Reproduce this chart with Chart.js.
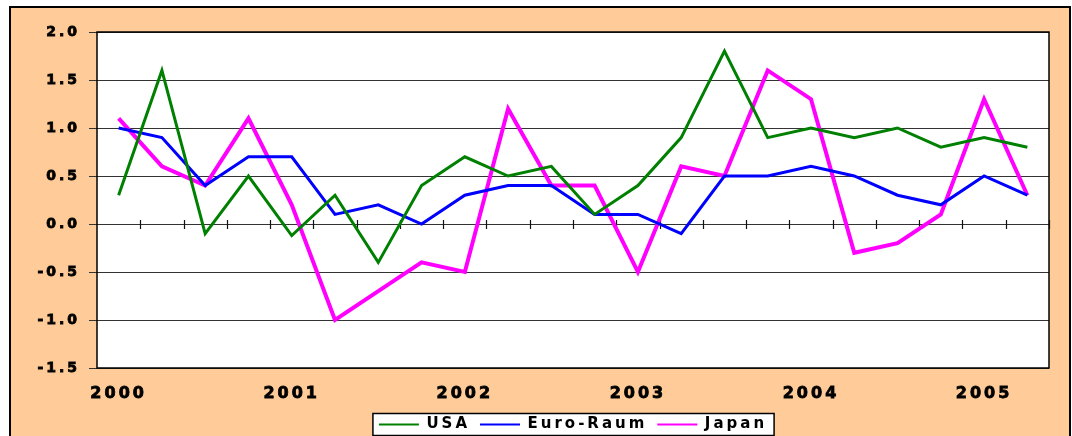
<!DOCTYPE html>
<html>
<head>
<meta charset="utf-8">
<script src="https://cdn.jsdelivr.net/npm/chart.js@4/dist/chart.umd.min.js"></script>
<style>
  html, body { margin: 0; padding: 0; background: #fff; }
  body { width: 1072px; height: 436px; position: relative; overflow: hidden; }
  .frame {
    position: absolute; left: 9px; top: 6px; width: 1058px; height: 440px;
    background: #ffcc99; border: 2px solid #000;
  }
  #chart { position: absolute; left: 0; top: 0; }
</style>
</head>
<body>
<div class="frame"></div>
<canvas id="chart" width="1072" height="436"></canvas>
<script>
// Quarterly growth, 2000 Q1 - 2005 Q2
const categories = [
  '2000 Q1', '2000 Q2', '2000 Q3', '2000 Q4',
  '2001 Q1', '2001 Q2', '2001 Q3', '2001 Q4',
  '2002 Q1', '2002 Q2', '2002 Q3', '2002 Q4',
  '2003 Q1', '2003 Q2', '2003 Q3', '2003 Q4',
  '2004 Q1', '2004 Q2', '2004 Q3', '2004 Q4',
  '2005 Q1', '2005 Q2'
];
const usa   = [0.3, 1.6, -0.1, 0.5, -0.12, 0.3, -0.4, 0.4, 0.7, 0.5, 0.6, 0.1, 0.4, 0.9, 1.8, 0.9, 1.0, 0.9, 1.0, 0.8, 0.9, 0.8];
const euro  = [1.0, 0.9, 0.4, 0.7, 0.7, 0.1, 0.2, 0.0, 0.3, 0.4, 0.4, 0.1, 0.1, -0.1, 0.5, 0.5, 0.6, 0.5, 0.3, 0.2, 0.5, 0.3];
const japan = [1.1, 0.6, 0.4, 1.1, 0.2, -1.0, -0.7, -0.4, -0.5, 1.2, 0.4, 0.4, -0.5, 0.6, 0.5, 1.6, 1.3, -0.3, -0.2, 0.1, 1.3, 0.3];
const seriesNames = ['USA', 'Euro-Raum', 'Japan'];
const yMin = -1.5, yMax = 2.0, yStep = 0.5;

const fontFamily = '"DejaVu Sans", Verdana, sans-serif';
const legendShift = 6;

// wide lettering like the original picture
const textPlugin = {
  id: 'wideText',
  beforeUpdate(chart) { chart.ctx.letterSpacing = '3px'; },
  beforeDraw(chart) { chart.ctx.letterSpacing = '3px'; }
};

// white plot area, frame, legend box and the small ticks on the zero line
const framePlugin = {
  id: 'frame',
  afterLayout(chart) {
    chart.legend.top += legendShift;
    chart.legend.bottom += legendShift;
  },
  beforeDraw(chart) {
    const {ctx, chartArea: a} = chart;
    ctx.save();
    ctx.fillStyle = '#fff';
    ctx.fillRect(a.left, a.top, a.right - a.left, a.bottom - a.top);

    const boxes = chart.legend.legendHitBoxes;
    if (boxes && boxes.length) {
      const left = Math.min(...boxes.map(b => b.left)) - 6;
      const right = Math.max(...boxes.map(b => b.left + b.width)) + 7;
      const top = boxes[0].top - 3.5;
      const bottom = boxes[0].top + boxes[0].height + 3.5;
      ctx.fillStyle = '#fff';
      ctx.fillRect(left, top, right - left, bottom - top);
      ctx.strokeStyle = '#000';
      ctx.lineWidth = 1.5;
      ctx.strokeRect(left, top, right - left, bottom - top);
    }
    ctx.restore();
  },
  beforeDatasetsDraw(chart) {
    const {ctx, chartArea: a, scales: {x, y}} = chart;
    ctx.save();
    ctx.strokeStyle = '#000';
    ctx.lineWidth = 1.5;
    ctx.strokeRect(a.left, a.top, a.right - a.left, a.bottom - a.top);

    const y0 = y.getPixelForValue(0);
    ctx.lineWidth = 1.2;
    ctx.strokeStyle = '#111';
    ctx.beginPath();
    for (let i = 1; i <= categories.length; i++) {
      const px = Math.round(x.getPixelForValue(i - 0.5)) + 0.5;
      ctx.moveTo(px, y0 - 4);
      ctx.lineTo(px, y0 + 5);
    }
    ctx.stroke();
    ctx.restore();
  }
};

new Chart(document.getElementById('chart'), {
  type: 'line',
  data: {
    labels: categories,
    datasets: [
      { label: seriesNames[0], data: usa, borderColor: '#008000', borderWidth: 3 },
      { label: seriesNames[1], data: euro, borderColor: '#0000ff', borderWidth: 3 },
      { label: seriesNames[2], data: japan, borderColor: '#ff00ff', borderWidth: 4 }
    ]
  },
  options: {
    responsive: false,
    animation: false,
    devicePixelRatio: 1,
    elements: {
      point: { radius: 0 },
      line: { tension: 0, fill: false, borderJoinStyle: 'miter' }
    },
    layout: { padding: { top: 32, right: 23, left: 0, bottom: 0 } },
    plugins: {
      tooltip: { enabled: false },
      legend: {
        position: 'bottom',
        fullSize: false,
        labels: {
          color: '#000',
          font: { family: fontFamily, size: 15, weight: 'bold' },
          usePointStyle: true,
          pointStyle: 'line',
          pointStyleWidth: 40,
          padding: 10,
          generateLabels(chart) {
            const items = Chart.defaults.plugins.legend.labels.generateLabels(chart);
            items.forEach(it => { it.lineWidth = 2; it.pointStyle = 'line'; });
            return items;
          }
        }
      }
    },
    scales: {
      x: {
        offset: true,
        grid: { display: false },
        border: { display: false },
        ticks: {
          autoSkip: false,
          maxRotation: 0,
          padding: 8,
          color: '#000',
          textStrokeColor: '#000',
          textStrokeWidth: 0.8,
          font: { family: fontFamily, size: 16, weight: 'bold' },
          callback: (v, i) => (i % 4 === 0 ? categories[i].slice(0, 4) : '')
        },
        afterFit(s) { s.height = 33; }
      },
      y: {
        min: yMin,
        max: yMax,
        ticks: {
          stepSize: yStep,
          padding: 9,
          color: '#000',
          textStrokeColor: '#000',
          textStrokeWidth: 0.8,
          font: { family: fontFamily, size: 14, weight: 'bold' },
          callback: v => v.toFixed(1)
        },
        grid: { color: '#333', lineWidth: 1, tickLength: 8 },
        border: { display: false },
        afterFit(s) { s.width = 97; }
      }
    }
  },
  plugins: [textPlugin, framePlugin]
});
</script>
</body>
</html>
